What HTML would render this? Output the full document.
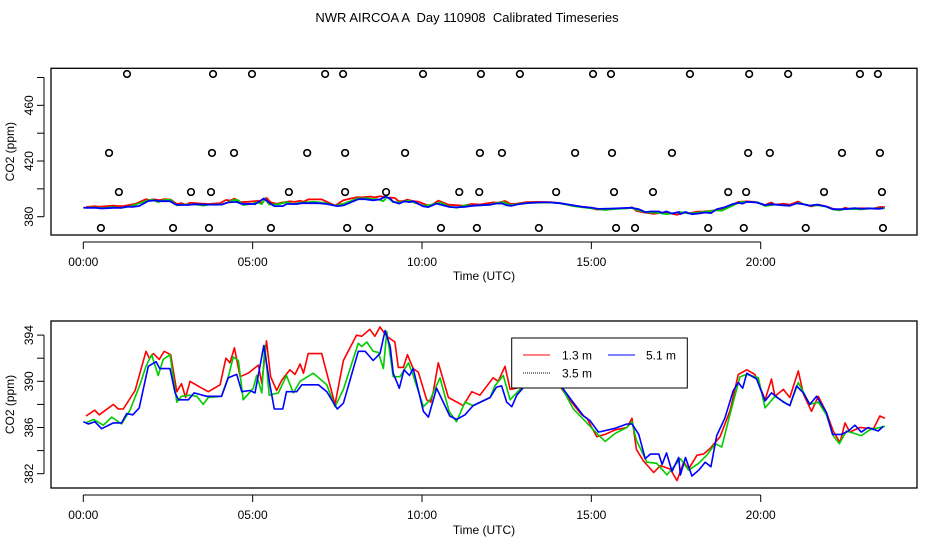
<!DOCTYPE html>
<html><head><meta charset="utf-8"><style>
html,body{margin:0;padding:0;background:#fff}
svg{display:block;font-family:"Liberation Sans",sans-serif}
text{white-space:pre}
</style></head><body>
<svg id="c" width="936" height="540" xmlns="http://www.w3.org/2000/svg">
<text x="467" y="22" font-size="13" text-anchor="middle">NWR AIRCOA A  Day 110908  Calibrated Timeseries</text>
<g id="topPanel"></g>
<g id="botPanel"></g>
</svg>
<script>
const xTickHours=[0,5,10,15,20];
const xTickLabels=["00:00","05:00","10:00","15:00","20:00"];
const topYTicks=[380,400,420,440,460,480];
const topYLabels=["380","","420","","460",""];
const botYTicks=[382,384,386,388,390,392,394];
const botYLabels=["382","","386","","390","","394"];
const seriesNames=["1.3 m","3.5 m","5.1 m"];
const seriesColors=["#ff0000","#00cc00","#0000ff"];
const redH=[0.08,0.34,0.47,0.89,1.03,1.18,1.53,1.85,1.95,2.07,2.24,2.39,2.58,2.76,2.90,3.02,3.15,3.44,3.69,4.04,4.21,4.33,4.46,4.63,4.87,5.17,5.27,5.41,5.53,5.71,5.86,6.10,6.25,6.40,6.50,6.64,7.04,7.43,7.68,8.07,8.22,8.46,8.61,8.76,8.96,9.20,9.30,9.45,9.57,9.74,9.89,10.14,10.26,10.34,10.48,10.78,11.22,11.47,11.71,12.10,12.25,12.45,12.60,12.80,13.09,13.39,13.78,13.98,14.18,14.52,14.72,14.87,15.16,15.41,15.71,16.05,16.20,16.33,16.54,16.84,17.04,17.33,17.53,17.73,17.87,18.12,18.31,18.51,18.80,19.10,19.34,19.59,19.83,20.13,20.32,20.42,20.67,20.86,21.11,21.26,21.50,21.70,21.94,22.14,22.34,22.49,22.63,22.93,23.33,23.52,23.67];
const redV=[387.0,387.5,387.1,388.0,387.6,387.6,389.2,392.6,392.0,392.4,391.9,392.6,392.3,389.1,389.8,388.6,390.0,389.5,389.1,389.7,392.0,391.6,392.9,390.4,390.7,391.4,389.8,393.5,390.4,389.2,390.1,391.0,390.6,391.5,390.7,392.4,392.4,388.0,391.8,394.0,393.9,394.5,393.9,394.7,393.9,393.4,391.2,391.2,392.3,391.1,390.8,388.4,388.2,389.2,391.6,388.6,387.9,389.1,388.8,390.3,390.0,391.3,389.3,389.4,390.4,390.6,390.5,390.0,389.1,387.8,387.1,386.8,385.2,385.4,385.8,386.0,386.8,384.1,383.1,382.1,382.7,382.4,381.4,383.0,382.4,383.6,383.7,384.2,385.2,387.5,390.6,391.0,390.6,388.4,390.2,388.7,389.3,388.6,390.9,388.9,387.4,388.7,387.3,385.7,384.7,386.4,385.6,386.0,385.9,387.0,386.8];
const greenH=[0.08,0.30,0.59,0.84,1.13,1.38,1.67,1.85,2.02,2.21,2.36,2.56,2.76,2.90,3.15,3.35,3.54,3.69,4.08,4.28,4.43,4.58,4.72,5.02,5.12,5.27,5.36,5.49,5.76,6.00,6.20,6.40,6.79,7.19,7.43,7.68,8.12,8.22,8.37,8.56,8.71,8.86,8.96,9.15,9.35,9.60,9.74,10.04,10.24,10.53,10.80,11.02,11.27,11.51,12.01,12.15,12.40,12.60,12.89,13.19,13.78,14.08,14.47,14.87,15.16,15.41,15.71,16.05,16.20,16.33,16.64,16.93,17.23,17.63,17.87,18.17,18.41,18.66,18.85,19.10,19.39,19.59,19.93,20.13,20.42,20.86,21.11,21.45,21.70,21.94,22.14,22.32,22.53,22.97,23.22,23.67];
const greenV=[386.4,386.7,386.2,386.9,386.3,387.5,389.7,391.3,392.3,390.5,391.9,392.3,388.2,388.7,388.8,388.7,388.0,388.6,388.7,390.4,392.1,391.8,388.4,389.4,390.5,389.0,393.1,388.8,389.0,390.5,389.0,390.0,390.7,389.7,387.8,389.3,393.3,393.0,393.4,392.6,392.5,391.1,394.3,390.4,390.4,391.6,390.5,387.8,388.4,390.3,387.4,386.5,388.2,387.9,388.6,389.6,390.5,388.4,389.3,390.0,390.2,389.7,387.6,386.4,385.5,384.8,385.5,386.0,386.5,384.9,383.0,382.9,381.9,383.3,382.3,382.9,383.6,384.6,384.3,387.2,390.4,390.6,390.3,387.7,388.7,387.9,389.9,388.0,388.2,387.1,385.3,384.6,385.7,385.3,385.8,386.1];
const blueH=[0.00,0.15,0.34,0.54,0.89,1.13,1.28,1.46,1.65,1.92,2.15,2.26,2.56,2.71,2.81,3.10,3.27,3.64,4.08,4.28,4.53,4.68,4.92,5.07,5.33,5.51,5.64,5.89,6.00,6.30,6.45,6.94,7.19,7.50,7.68,8.12,8.32,8.56,8.76,8.91,9.06,9.15,9.33,9.47,9.63,9.74,10.04,10.19,10.43,10.82,11.02,11.27,11.51,12.01,12.20,12.35,12.50,12.65,12.80,13.09,13.49,13.78,14.08,14.43,14.77,14.96,15.21,15.66,16.05,16.20,16.40,16.59,16.74,16.99,17.09,17.22,17.38,17.58,17.63,17.78,17.97,18.17,18.36,18.53,18.70,18.94,19.19,19.34,19.47,19.59,19.88,20.13,20.32,20.67,20.86,21.06,21.26,21.45,21.65,21.94,22.12,22.39,22.59,22.78,22.97,23.17,23.47,23.62];
const blueV=[386.5,386.3,386.5,385.9,386.4,386.4,387.2,387.1,387.7,391.3,391.7,391.1,391.1,389.0,388.4,388.4,389.0,388.7,388.7,390.3,390.6,389.1,389.2,389.0,393.1,389.7,387.6,387.6,389.1,389.1,389.7,389.7,389.1,387.6,388.1,392.6,392.6,391.8,392.4,394.4,393.0,390.7,389.4,391.0,390.5,391.1,387.4,386.9,389.4,387.0,386.7,387.1,387.9,388.6,389.5,389.6,388.2,387.8,388.8,389.8,390.3,390.3,389.7,388.3,387.0,386.6,385.6,385.9,386.3,386.3,385.4,383.3,383.7,383.7,382.8,383.8,382.2,383.4,381.9,383.4,381.8,382.3,383.0,382.6,385.3,386.8,389.2,389.9,389.4,390.7,390.2,388.3,389.0,388.2,387.9,389.6,389.0,388.0,388.7,387.3,385.4,385.4,385.7,386.2,385.6,386.0,385.7,386.1];
const flagH1=[1.29,3.83,4.98,7.14,7.67,10.03,11.74,12.89,15.05,15.58,17.91,19.66,20.81,22.93,23.46];
const flagH2=[0.76,3.80,4.45,6.61,7.73,9.50,11.71,12.36,14.52,15.61,17.38,19.63,20.27,22.40,23.52];
const flagH3=[1.05,3.18,3.77,6.07,7.73,8.94,11.10,11.69,13.96,15.67,16.82,19.04,19.57,21.87,23.58];
const flagH4=[0.52,2.65,3.71,5.54,7.79,8.44,10.56,11.62,13.45,15.73,16.29,18.45,19.50,21.33,23.61];
const flagLevels=[482.5,425.8,397.7,371.9];

const NS="http://www.w3.org/2000/svg";
function mk(parent,tag,attrs){const e=document.createElementNS(NS,tag);for(const k in attrs)e.setAttribute(k,attrs[k]);parent.appendChild(e);return e;}
const xs=h=>83.3+h*33.87;
const ytop=v=>216.7-(v-380)*1.392;
const ybot=v=>381.3-(v-390)*11.55;

function panel(g,y0,y1,ysc,ticks,labels,labY,timeY,prefix){
  let e=mk(g,'rect',{x:51,y:y0,width:866,height:y1-y0,fill:'none',stroke:'#000','stroke-width':1.3});
  
  
  const xa=mk(g,'g',{});
  
  
  mk(xa,'line',{x1:xs(0),x2:xs(20),y1:y1+7,y2:y1+7,stroke:'#000'});
  xTickHours.forEach((h,i)=>{
    mk(xa,'line',{x1:xs(h),x2:xs(h),y1:y1+7,y2:y1+14,stroke:'#000'});
    const t=mk(xa,'text',{x:xs(h),y:labY,'font-size':12,'text-anchor':'middle'});t.textContent=xTickLabels[i];
    
    
  });
  const tt=mk(g,'text',{x:484,y:timeY,'font-size':12,'text-anchor':'middle'});tt.textContent='Time (UTC)';
  
  
  const ya=mk(g,'g',{});
  
  
  mk(ya,'line',{x1:44,x2:44,y1:ysc(ticks[0]),y2:ysc(ticks[ticks.length-1]),stroke:'#000'});
  ticks.forEach((v,i)=>{
    const y=ysc(v);mk(ya,'line',{x1:37,x2:44,y1:y,y2:y,stroke:'#000'});
    if(labels[i]){const t=mk(ya,'text',{x:33,y:y,'font-size':12,'text-anchor':'middle',transform:`rotate(-90 33 ${y})`});t.textContent=labels[i];
      
      }
  });
  const cy=(y0+y1)/2;
  const yt=mk(g,'text',{x:14,y:cy,'font-size':12,'text-anchor':'middle',transform:`rotate(-90 14 ${cy})`});yt.textContent='CO2 (ppm)';
  
  
}
function series(g,ysc,w){
  [[redH,redV],[greenH,greenV],[blueH,blueV]].forEach((s,i)=>{
    const d=s[0].map((h,j)=>(j?'L':'M')+xs(h).toFixed(1)+','+ysc(s[1][j]).toFixed(1)).join('');
    const p=mk(g,'path',{d:d,fill:'none',stroke:seriesColors[i],'stroke-width':w,'stroke-linejoin':'round'});
    
    
  });
}
const topG=document.getElementById('topPanel'),botG=document.getElementById('botPanel');
panel(topG,68.3,235,ytop,topYTicks,topYLabels,266,280,'top');
series(topG,ytop,1.8);
[flagH1,flagH2,flagH3,flagH4].forEach((arr,k)=>{
  arr.forEach(h=>{
    const c=mk(topG,'circle',{cx:xs(h),cy:ytop(flagLevels[k]),r:3.3,fill:'none',stroke:'#000','stroke-width':1.6});
    
    
  });
});
panel(botG,321,488,ybot,botYTicks,botYLabels,519,534,'bottom');
series(botG,ybot,1.6);
const lg=mk(botG,'g',{});


mk(lg,'rect',{x:511.7,y:338,width:175.6,height:50,fill:'#fff',stroke:'#000'});
[[523,355,0,'1.3 m',562],[608,355,2,'5.1 m',646],[523,373,1,'3.5 m',562]].forEach(a=>{
  const e=mk(lg,'g',{});
  
  
  mk(e,'line',{x1:a[0],x2:a[0]+27,y1:a[1],y2:a[1],stroke:a[2]==1?'#000':seriesColors[a[2]],'stroke-width':1,'stroke-dasharray':a[2]==1?'1,1':'none'});
  const t=mk(e,'text',{x:a[4],y:a[1]+4.5,'font-size':12});t.textContent=a[3];
});
</script>
</body></html>
